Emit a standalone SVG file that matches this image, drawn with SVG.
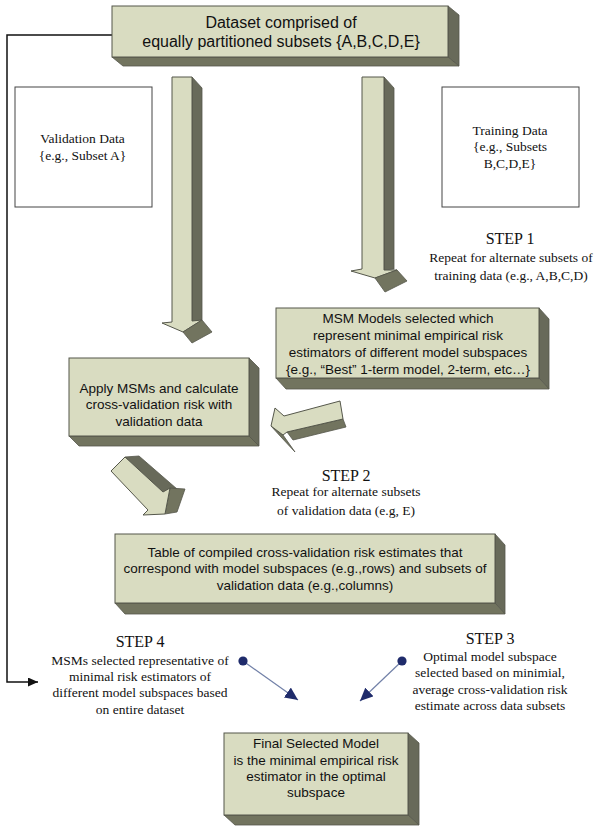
<svg xmlns="http://www.w3.org/2000/svg" width="601" height="832" viewBox="0 0 601 832">
<defs>
<style>
.face{fill:#d9dcc1;stroke:#55574b;stroke-width:1}
.side{fill:#686a5a;stroke:#55574b;stroke-width:0.8}
.bot{fill:#74766550;}
.bottom{fill:#72745f;stroke:#55574b;stroke-width:0.8}
.plain{fill:#ffffff;stroke:#444;stroke-width:1}
.sans{font-family:"Liberation Sans",Arial,sans-serif;font-size:13.5px;fill:#111;text-anchor:middle}
.big{font-size:16px}
.serif{font-family:"Liberation Serif","Times New Roman",serif;font-size:13.5px;fill:#111;text-anchor:middle}
.step{font-size:16px}
.line{fill:none;stroke:#111;stroke-width:1.5}
.dline{fill:none;stroke:#7281a8;stroke-width:1.2}
.dot{fill:#1f2b6b}
</style>
<marker id="blk" markerUnits="userSpaceOnUse" markerWidth="11" markerHeight="9" refX="10" refY="4.5" orient="auto">
<path d="M0,0 L10,4.5 L0,9 Z" fill="#111"/>
</marker>
<marker id="nav" markerUnits="userSpaceOnUse" markerWidth="14" markerHeight="12" refX="13" refY="6" orient="auto">
<path d="M0,0 L13,6 L0,12 Z" fill="#1f2b6b"/>
</marker>
</defs>
<rect width="601" height="832" fill="#ffffff"/>

<g id="connectors">
<path class="line" d="M112,35 H7 V682 H38" marker-end="url(#blk)"/>
<g id="arrow-left-down">
<polygon class="side" points="192,77 202,88 202,320 192,322"/>
<polygon class="face" points="172,77 192,77 192,321 202,320 183,332 162,323 172,322"/>
<polygon class="bottom" points="183,332 202,320 212,332 192,343"/>
</g>
<g id="arrow-right-down">
<polygon class="side" points="384,77 394,88 394,269 384,270"/>
<polygon class="face" points="362,77 384,77 384,270 397,270 375,278 351,271 362,269"/>
<polygon class="bottom" points="375,278 397,270 407,281 385,292"/>
</g>
<g id="arrow-left">
<polygon class="bottom" points="287,432 343,419 346,427 293,440"/>
<polygon class="bottom" points="271,426 283,435 295,452 281,437"/>
<polygon class="face" points="275,408 284,416 340,401 343,419 287,432 283,435 271,426"/>
</g>
<g id="arrow-diag">
<polygon class="side" points="125,457 139,456 177,489 163,492"/>
<polygon class="bottom" points="170,488 185,489 177,512 165,514"/>
<polygon class="face" points="111,471 125,457 163,492 170,488 165,514 143,515 148,510"/>
</g>
<line class="dline" x1="243" y1="661" x2="298" y2="700" marker-end="url(#nav)"/>
<circle class="dot" cx="243" cy="661" r="4.6"/>
<line class="dline" x1="402" y1="661" x2="360" y2="701" marker-end="url(#nav)"/>
<circle class="dot" cx="402" cy="661" r="4.6"/>
</g>

<g id="dataset">
<polygon class="side" points="448,6 459,15 459,66 448,57"/>
<polygon class="bottom" points="112,57 448,57 459,66 123,66"/>
<rect class="face" x="112" y="6" width="336" height="51"/>
<text class="sans big" x="281" y="27.5">Dataset comprised of</text>
<text class="sans big" x="281" y="46.5">equally partitioned subsets {A,B,C,D,E}</text>
</g>

<g id="validation">
<rect class="plain" x="15" y="87" width="137" height="120"/>
<text class="serif" x="82.5" y="142.5">Validation Data</text>
<text class="serif" x="82.5" y="159.5">{e.g., Subset A}</text>
</g>

<g id="training">
<rect class="plain" x="442" y="87" width="137" height="120"/>
<text class="serif" x="510" y="134.5">Training Data</text>
<text class="serif" x="510" y="151">{e.g., Subsets</text>
<text class="serif" x="510" y="168">B,C,D,E}</text>
</g>

<g id="step1">
<text class="serif step" x="510" y="244">STEP 1</text>
<text class="serif" x="511" y="261.5">Repeat for alternate subsets of</text>
<text class="serif" x="511" y="279.5">training data (e.g., A,B,C,D)</text>
</g>

<g id="msm">
<polygon class="side" points="539,308 549,319 549,389 539,378"/>
<polygon class="bottom" points="276,378 539,378 549,389 286,389"/>
<rect class="face" x="276" y="308" width="263" height="70"/>
<text class="sans" x="408" y="323">MSM Models selected which</text>
<text class="sans" x="408" y="340">represent minimal empirical risk</text>
<text class="sans" x="408" y="356.5">estimators of different model subspaces</text>
<text class="sans" x="408" y="374">{e.g., “Best” 1-term model, 2-term, etc…}</text>
</g>

<g id="apply">
<polygon class="side" points="249,358 259,368 259,446 249,436"/>
<polygon class="bottom" points="69,436 249,436 259,446 79,446"/>
<rect class="face" x="69" y="358" width="180" height="78"/>
<text class="sans" x="159" y="393">Apply MSMs and calculate</text>
<text class="sans" x="159" y="409">cross-validation risk with</text>
<text class="sans" x="159" y="425.5">validation data</text>
</g>

<g id="step2">
<text class="serif step" x="346" y="481">STEP 2</text>
<text class="serif" x="346" y="496">Repeat for alternate subsets</text>
<text class="serif" x="346" y="514.5">of validation data (e.g, E)</text>
</g>

<g id="table">
<polygon class="side" points="495,534 505,545 505,614 495,603"/>
<polygon class="bottom" points="115,603 495,603 505,614 125,614"/>
<rect class="face" x="115" y="534" width="380" height="69"/>
<text class="sans" x="305" y="556.5">Table of compiled cross-validation risk estimates that</text>
<text class="sans" x="305" y="572.5">correspond with model subspaces (e.g.,rows) and subsets of</text>
<text class="sans" x="305" y="589.5">validation data (e.g.,columns)</text>
</g>

<g id="step4">
<text class="serif step" x="140" y="647">STEP 4</text>
<text class="serif" x="140" y="664.5">MSMs selected representative of</text>
<text class="serif" x="140" y="680.5">minimal risk estimators of</text>
<text class="serif" x="140" y="697">different model subspaces based</text>
<text class="serif" x="140" y="714">on entire dataset</text>
</g>

<g id="step3">
<text class="serif step" x="490" y="644">STEP 3</text>
<text class="serif" x="490" y="661">Optimal model subspace</text>
<text class="serif" x="490" y="677">selected based on minimial,</text>
<text class="serif" x="490" y="694">average cross-validation risk</text>
<text class="serif" x="490" y="709.5">estimate across data subsets</text>
</g>

<g id="final">
<polygon class="side" points="408,733 419,743 419,825 408,815"/>
<polygon class="bottom" points="224,815 408,815 419,825 235,825"/>
<rect class="face" x="224" y="733" width="184" height="82"/>
<text class="sans" x="316" y="748">Final Selected Model</text>
<text class="sans" x="316" y="764.5">is the minimal empirical risk</text>
<text class="sans" x="316" y="780.5">estimator in the optimal</text>
<text class="sans" x="316" y="797">subspace</text>
</g>
</svg>
